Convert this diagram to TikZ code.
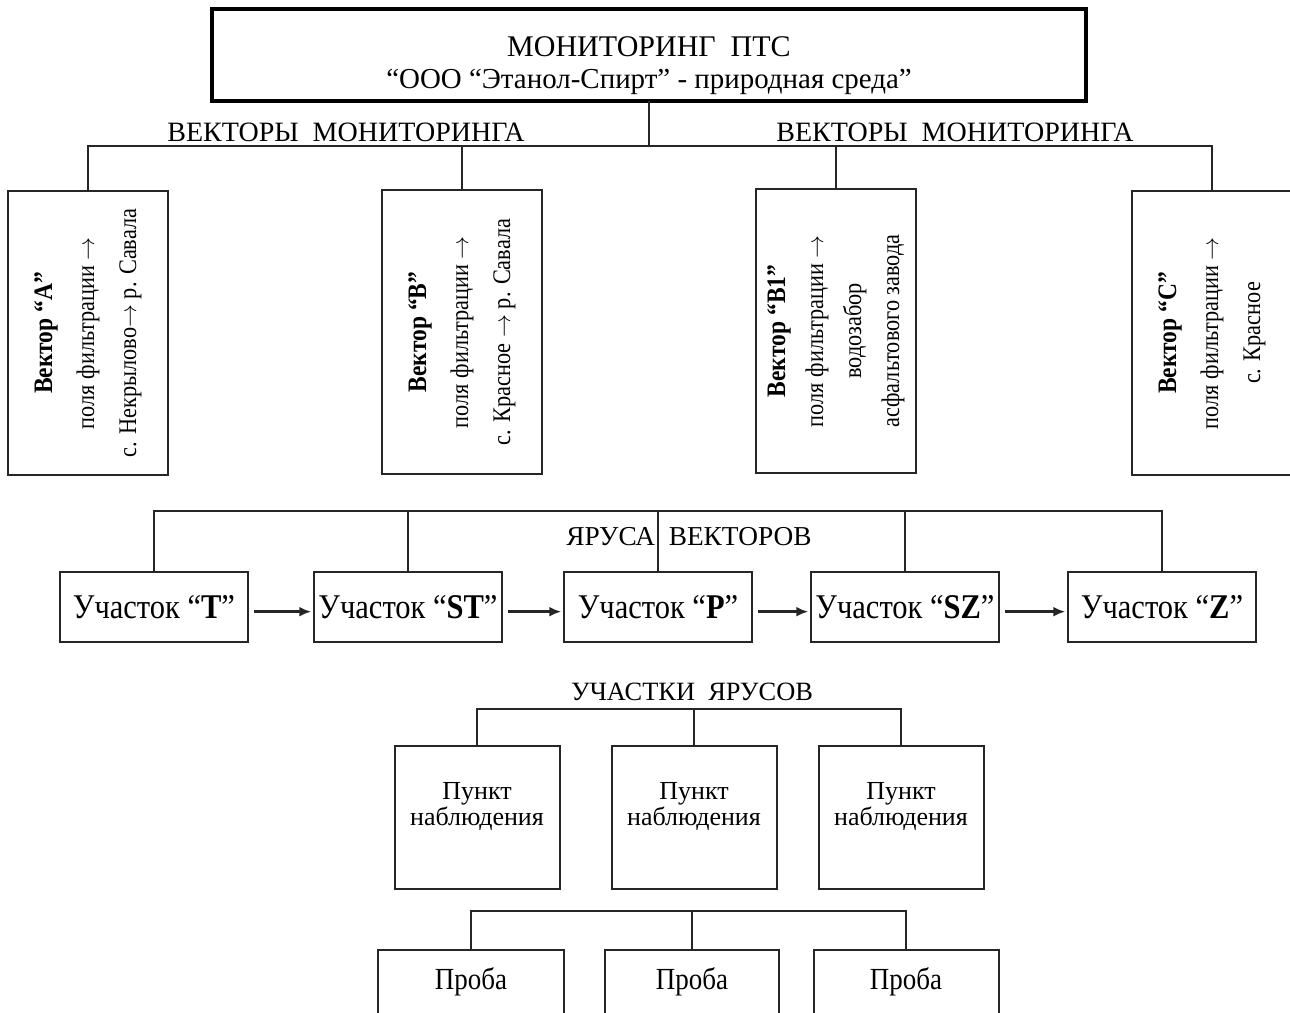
\documentclass[tikz,border=0pt]{standalone}
\usepackage{fontspec}
\setmainfont{Liberation Serif}
\newfontfamily\narrowserif{Liberation Serif}[FakeStretch=0.88]
\usetikzlibrary{arrows.meta}
\newcommand{\px}{0.75pt}
\newcommand{\framewidth}{1.5pt}
\newcommand{\toarrow}{\ensuremath{\rightarrow}}
\newcommand{\vectorhead}[1]{\textbf{\fontsize{20}{31.5}\selectfont #1}}
\tikzstyle{frame}=[draw=black!85, line width=\framewidth, inner sep=0, outer sep=0]
\tikzstyle{mainframe}=[frame, draw=black, line width=3pt, minimum width=874*\px, minimum height=92*\px]
\tikzstyle{vector}=[frame, rotate=90, align=center, minimum width=284*\px, minimum height=160*\px,
                    font=\narrowserif\fontsize{19}{31.5}\selectfont]
\tikzstyle{tier}=[frame, minimum width=188*\px, minimum height=70*\px, font=\narrowserif\fontsize{26}{28}\selectfont]
\tikzstyle{site}=[frame, minimum width=165*\px, minimum height=143*\px]
\tikzstyle{sitetext}=[align=center, inner sep=0, font=\fontsize{19.5}{20}\selectfont]
\tikzstyle{probe}=[frame, minimum height=65*\px, font=\narrowserif\fontsize{23}{24}\selectfont]
\tikzstyle{caption}=[inner sep=0, font=\fontsize{21}{22}\selectfont]
\tikzstyle{link}=[draw=black!85, line width=1.1pt]
\tikzstyle{flow}=[link, line width=1.8pt, -{Latex[length=9pt, width=7.5pt]}, shorten <=4.5pt, shorten >=2pt]

\begin{document}
\begin{tikzpicture}[x=\px, y=-\px]
    \useasboundingbox (0,0) rectangle (1290,1013);
    % Head of the scheme.
    \node[mainframe] (mon) at (649,55) {};
    \node[align=center, inner sep=0, font=\fontsize{22.5}{24}\selectfont] (montext) at ([yshift=-8pt]mon.center)
        {МОНИТОРИНГ\ \ ПТС\\{\fontsize{21.7}{24}\selectfont “ООО “Этанол-Спирт” - природная среда”}};
    \node[caption] (vecleft) at (346,132) {ВЕКТОРЫ\ \ МОНИТОРИНГА};
    \node[caption] (vecright) at (955,132) {ВЕКТОРЫ\ \ МОНИТОРИНГА};

    % Vectors (rotated boxes, east is the top side).
    \node[vector] (vA) at (88,333) {\vectorhead{Вектор “А”}\\поля фильтрации \toarrow\\с. Некрылово\toarrow{} р. Савала};
    \node[vector] (vB) at (462,332) {\vectorhead{Вектор “В”}\\поля фильтрации \toarrow\\с. Красное \toarrow{} р. Савала};
    \node[vector, font=\narrowserif\fontsize{19}{28.5}\selectfont] (vB1) at (836,331)
        {\vectorhead{Вектор “В1”}\\поля фильтрации \toarrow\\водозабор\\асфальтового завода};
    \node[vector] (vC) at (1212,333) {\vectorhead{Вектор “С”}\\поля фильтрации \toarrow\\с. Красное};
    \coordinate (vecbar) at (649,146);
    \draw[link] (mon.south) -- (vecbar);
    \draw[link] (vA.east) |- (vecbar) -| (vC.east);
    \foreach \v in {vB,vB1}
        \draw[link] (\v.east) -- (\v.east |- vecbar);

    % Tiers.
    \node[tier] (uT) at (154,607) {Участок “\textbf{T}”};
    \node[tier] (uST) at (408,607) {Участок “\textbf{ST}”};
    \node[tier] (uP) at (658,607) {Участок “\textbf{P}”};
    \node[tier] (uSZ) at (905,607) {Участок “\textbf{SZ}”};
    \node[tier] (uZ) at (1162,607) {Участок “\textbf{Z}”};
    \coordinate (tierbar) at (658,511);
    \draw[link] (uT.north) |- (tierbar) -| (uZ.north);
    \foreach \u in {uST,uP,uSZ}
        \draw[link] (\u.north) -- (\u.north |- tierbar);
    \node[caption, font=\fontsize{20.5}{22}\selectfont] (tiertext) at (689,537) {ЯРУСА\ \ ВЕКТОРОВ};
    \foreach \a/\b in {uT/uST,uST/uP,uP/uSZ,uSZ/uZ}
        \draw[flow] ([yshift=-3.5pt]\a.east) -- ([yshift=-3.5pt]\b.west);

    % Observation points.
    \node[caption, font=\fontsize{19.8}{20}\selectfont] (sitecaption) at (692,692) {УЧАСТКИ\ \ ЯРУСОВ};
    \node[site] (s1) at (477,817) {};
    \node[site] (s2) at (694,817) {};
    \node[site] (s3) at (901,817) {};
    \foreach \s in {s1,s2,s3}
        \node[sitetext] (\s-text) at ([yshift=8pt]\s.center) {Пункт\\наблюдения};
    \coordinate (sitebar) at (694,709);
    \draw[link] (s1.north) |- (sitebar) -| (s3.north);
    \draw[link] (s2.north) -- (s2.north |- sitebar);

    % Samples (cut by the lower edge).
    \node[probe, minimum width=186*\px] (p1) at (471,982) {Проба};
    \node[probe, minimum width=174*\px] (p2) at (692,982) {Проба};
    \node[probe, minimum width=185*\px] (p3) at (906,982) {Проба};
    \coordinate (probebar) at (692,911);
    \draw[link] (p1.north) |- (probebar) -| (p3.north);
    \draw[link] (p2.north) -- (p2.north |- probebar);
\end{tikzpicture}
\end{document}
